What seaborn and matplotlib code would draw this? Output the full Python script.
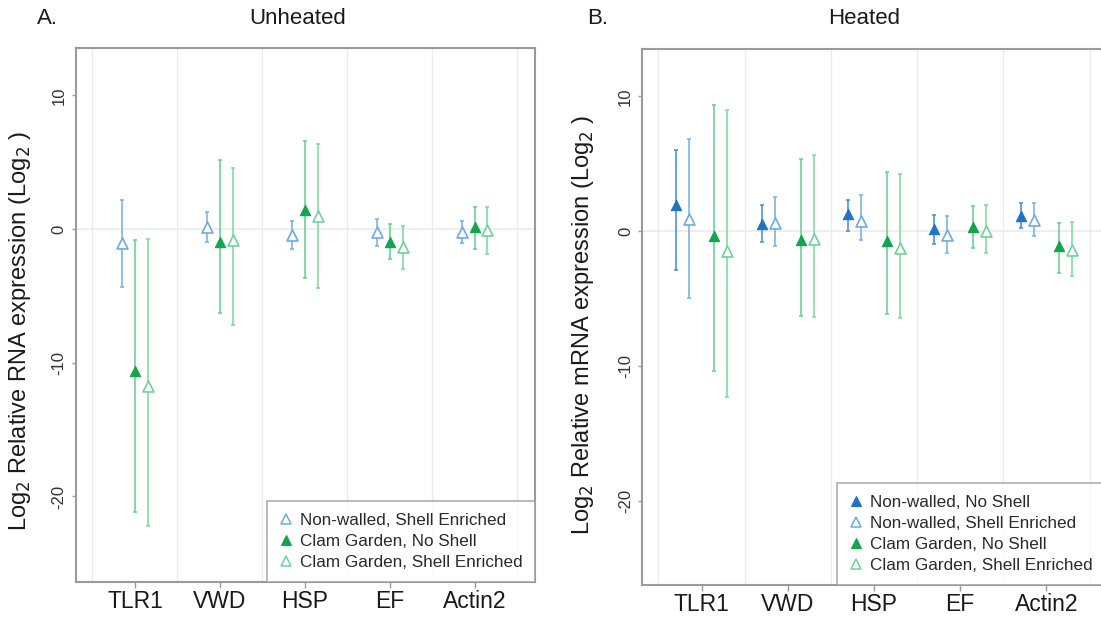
import numpy as np
import pandas as pd
import matplotlib
matplotlib.use("Agg")
import matplotlib.pyplot as plt
from matplotlib.lines import Line2D
import seaborn as sns

genes = ["TLR1", "VWD", "HSP", "EF", "Actin2"]

# Unheated: mean and error limits per gene
u_nw_se_mean = [-1.05, 0.17, -0.45, -0.25, -0.20]
u_nw_se_lo = [-4.30, -0.95, -1.50, -1.25, -1.07]
u_nw_se_hi = [2.15, 1.25, 0.60, 0.75, 0.60]

u_cg_ns_mean = [-10.60, -0.95, 1.45, -1.00, 0.17]
u_cg_ns_lo = [-21.20, -6.30, -3.65, -2.27, -1.45]
u_cg_ns_hi = [-0.80, 5.15, 6.60, 0.37, 1.67]

u_cg_se_mean = [-11.70, -0.82, 0.97, -1.32, -0.07]
u_cg_se_lo = [-22.20, -7.20, -4.37, -3.00, -1.87]
u_cg_se_hi = [-0.75, 4.60, 6.37, 0.22, 1.67]

# Heated
h_nw_ns_mean = [1.93, 0.52, 1.31, 0.15, 1.11]
h_nw_ns_lo = [-2.90, -0.79, 0.02, -0.91, 0.25]
h_nw_ns_hi = [6.00, 1.93, 2.35, 1.24, 2.12]

h_nw_se_mean = [0.89, 0.64, 0.77, -0.25, 0.81]
h_nw_se_lo = [-4.94, -1.09, -0.67, -1.60, -0.37]
h_nw_se_hi = [6.80, 2.54, 2.67, 1.13, 2.12]

h_cg_ns_mean = [-0.37, -0.67, -0.74, 0.32, -1.09]
h_cg_ns_lo = [-10.35, -6.27, -6.15, -1.24, -3.09]
h_cg_ns_hi = [9.38, 5.33, 4.40, 1.87, 0.64]

h_cg_se_mean = [-1.46, -0.59, -1.21, 0.00, -1.36]
h_cg_se_lo = [-12.30, -6.35, -6.40, -1.58, -3.33]
h_cg_se_hi = [9.00, 5.68, 4.22, 1.93, 0.69]

labels = {
    "nw_ns": "Non-walled, No Shell",
    "nw_se": "Non-walled, Shell Enriched",
    "cg_ns": "Clam Garden, No Shell",
    "cg_se": "Clam Garden, Shell Enriched",
}
# (marker colour, error bar colour, filled)
styles = {
    "nw_ns": ("#1f74c2", "#4f94d4", True),
    "nw_se": ("#6eaae0", "#7eb4e2", False),
    "cg_ns": ("#13a54e", "#6fcf97", True),
    "cg_se": ("#6fd19a", "#86d8a8", False),
}

sns.set_theme(style="white")
plt.rcParams["font.family"] = ["Liberation Sans", "DejaVu Sans"]

W, H = 1101, 620
fig = plt.figure(figsize=(W / 100, H / 100), dpi=100)


def px_axes(x0, x1, y_top, y_bot):
    return fig.add_axes([x0 / W, 1 - y_bot / H, (x1 - x0) / W,
                         (y_bot - y_top) / H])


ax_u = px_axes(75.5, 535, 48, 582)
ax_h = px_axes(642, 1112, 49, 585)


def draw_series(ax, key, mean, lo, hi, offset):
    mc, ec, filled = styles[key]
    df = pd.DataFrame({"gene": genes, "mean": mean, "lo": lo, "hi": hi})
    df["x"] = np.arange(len(genes)) + offset
    ax.errorbar(df["x"], df["mean"],
                yerr=[df["mean"] - df["lo"], df["hi"] - df["mean"]],
                fmt="none", ecolor=ec, elinewidth=1.2, capsize=1.5,
                capthick=1.2, zorder=2)
    if filled:
        sns.scatterplot(data=df, x="x", y="mean", ax=ax, marker="^", s=55,
                        facecolor=mc, edgecolor=mc, linewidth=0.8, zorder=3,
                        legend=False)
    else:
        sns.scatterplot(data=df, x="x", y="mean", ax=ax, marker="^", s=62,
                        facecolor="white", edgecolor=mc, linewidth=1.2,
                        zorder=3, legend=False)


def style_axes(ax, xlim, ylim, ylabel, label_right_px, label_y):
    ax.set_xlim(*xlim)
    ax.set_ylim(*ylim)
    for xv in np.arange(-0.5, len(genes), 1.0):
        ax.axvline(xv, color="#ebebeb", lw=1.0, zorder=0)
    ax.axhline(0, color="#ebebeb", lw=1.2, zorder=0)
    ax.set_xticks(range(len(genes)))
    ax.set_xticklabels(genes, fontsize=16.5, color="#1a1a1a")
    ax.set_yticks([10, 0, -10, -20])
    ax.set_yticklabels(["10", "0", "-10", "-20"], rotation=90, va="center",
                       fontsize=12, color="#333333")
    ax.tick_params(axis="x", length=4, width=1, color="#999999", pad=1.5,
                   bottom=True)
    ax.tick_params(axis="y", length=3, width=1, color="#999999", pad=3.5,
                   left=True)
    for sp in ax.spines.values():
        sp.set_color("#9a9a9a")
        sp.set_linewidth(1.5)
    ax.set_xlabel("")
    ax.set_ylabel(ylabel, fontsize=17, color="#1a1a1a")
    bb = ax.get_position()
    ax.yaxis.set_label_coords((label_right_px / W - bb.x0) / bb.width,
                              label_y)


def add_legend(ax, keys, anchor_px, loc):
    handles = []
    for k in keys:
        mc, ec, filled = styles[k]
        handles.append(Line2D([], [], linestyle="none", marker="^",
                              markersize=7,
                              markerfacecolor=mc if filled else "white",
                              markeredgecolor=mc,
                              markeredgewidth=0.8 if filled else 1.1,
                              label=labels[k]))
    leg = ax.legend(handles=handles, loc=loc,
                    bbox_to_anchor=(anchor_px[0] / W, 1 - anchor_px[1] / H),
                    bbox_transform=fig.transFigure, borderaxespad=0.0,
                    fontsize=12.3, frameon=True, fancybox=False,
                    handlelength=0.8, handletextpad=0.45, labelspacing=0.36,
                    borderpad=0.7)
    leg.get_frame().set_edgecolor("#9a9a9a")
    leg.get_frame().set_linewidth(1.2)
    for t in leg.get_texts():
        t.set_color("#2a2a2a")


draw_series(ax_u, "nw_se", u_nw_se_mean, u_nw_se_lo, u_nw_se_hi, -0.15)
draw_series(ax_u, "cg_ns", u_cg_ns_mean, u_cg_ns_lo, u_cg_ns_hi, 0.0)
draw_series(ax_u, "cg_se", u_cg_se_mean, u_cg_se_lo, u_cg_se_hi, 0.15)
style_axes(ax_u, (-0.70, 4.71), (-26.4, 13.55),
           r"Log$_2$ Relative RNA expression (Log$_2$ )", 33, 0.47)
add_legend(ax_u, ["nw_se", "cg_ns", "cg_se"], (535, 582), "lower right")

draw_series(ax_h, "nw_ns", h_nw_ns_mean, h_nw_ns_lo, h_nw_ns_hi, -0.30)
draw_series(ax_h, "nw_se", h_nw_se_mean, h_nw_se_lo, h_nw_se_hi, -0.15)
draw_series(ax_h, "cg_ns", h_cg_ns_mean, h_cg_ns_lo, h_cg_ns_hi, 0.15)
draw_series(ax_h, "cg_se", h_cg_se_mean, h_cg_se_lo, h_cg_se_hi, 0.30)
style_axes(ax_h, (-0.69, 4.76), (-26.2, 13.5),
           r"Log$_2$ Relative mRNA expression (Log$_2$ )", 596, 0.485)
add_legend(ax_h, ["nw_ns", "nw_se", "cg_ns", "cg_se"], (837, 585),
           "lower left")

fig.text(47 / W, 1 - 19 / H, "A.", fontsize=16, ha="center",
         va="center", color="#1a1a1a")
fig.text(298 / W, 1 - 18 / H, "Unheated", fontsize=16, ha="center",
         va="center", color="#1a1a1a")
fig.text(598 / W, 1 - 19 / H, "B.", fontsize=16, ha="center",
         va="center", color="#1a1a1a")
fig.text(864 / W, 1 - 18 / H, "Heated", fontsize=16, ha="center",
         va="center", color="#1a1a1a")

fig.savefig("out.png", dpi=100, facecolor="white")
